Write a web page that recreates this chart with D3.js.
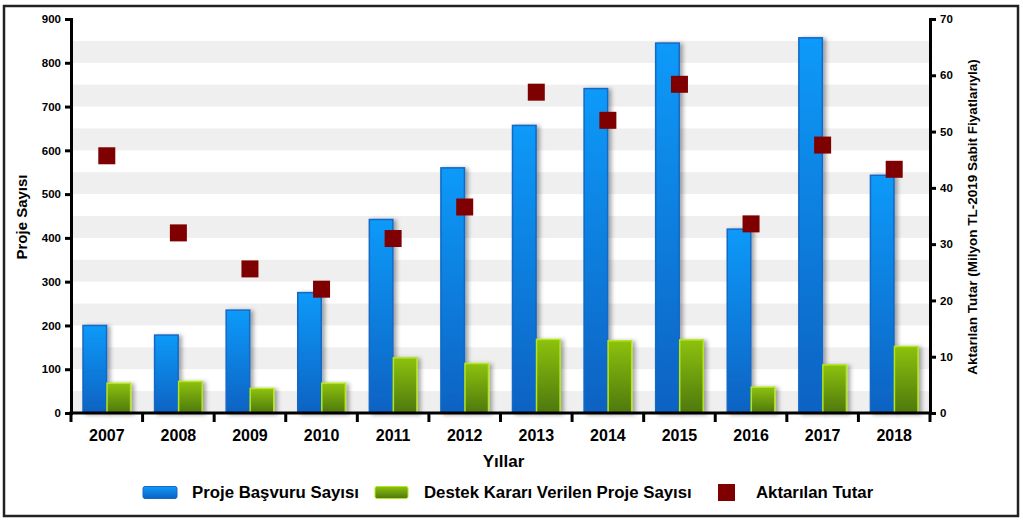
<!DOCTYPE html>
<html>
<head>
<meta charset="utf-8">
<script src="https://cdn.jsdelivr.net/npm/d3@7"></script>
<style>
  body { margin: 0; background: #fff; }
  text { font-family: "Liberation Sans", Arial, sans-serif; font-weight: bold; fill: #000; }
</style>
</head>
<body>
<div id="chart"></div>
<script>
// data
const years = ["2007", "2008", "2009", "2010", "2011", "2012", "2013", "2014", "2015", "2016", "2017", "2018"];
const basvuru = [200, 178, 235, 275, 442, 560, 657, 741, 845, 420, 857, 543];
const destek = [68, 72, 56, 68, 126, 113, 168, 165, 167, 59, 110, 152];
const tutar = [45.7, 32.0, 25.6, 22.0, 31.0, 36.6, 57.0, 52.0, 58.4, 33.6, 47.6, 43.3];
const leftTicks = [0, 100, 200, 300, 400, 500, 600, 700, 800, 900];
const rightTicks = [0, 10, 20, 30, 40, 50, 60, 70];

const svgWidth = 1023;
const svgHeight = 521;

const margin = { top: 19, right: 93, bottom: 108, left: 71 };
const width = svgWidth - margin.left - margin.right;
const height = svgHeight - margin.top - margin.bottom;

const svg = d3.select("#chart")
  .append("svg")
  .attr("width", svgWidth)
  .attr("height", svgHeight);

// gradients and shadow
const defs = svg.append("defs");
const blueGrad = defs.append("linearGradient").attr("id", "blueGrad")
  .attr("x1", 0).attr("y1", 0).attr("x2", 0).attr("y2", 1);
blueGrad.append("stop").attr("offset", "0%").attr("stop-color", "#0e9af9");
blueGrad.append("stop").attr("offset", "100%").attr("stop-color", "#0a62c2");

const greenGrad = defs.append("linearGradient").attr("id", "greenGrad")
  .attr("x1", 0).attr("y1", 0).attr("x2", 0).attr("y2", 1);
greenGrad.append("stop").attr("offset", "0%").attr("stop-color", "#8cc20f");
greenGrad.append("stop").attr("offset", "100%").attr("stop-color", "#4e780c");

const shadow = defs.append("filter").attr("id", "shadow")
  .attr("x", "-20%").attr("y", "-10%").attr("width", "160%").attr("height", "130%");
shadow.append("feDropShadow")
  .attr("dx", 3).attr("dy", 1).attr("stdDeviation", 2)
  .attr("flood-color", "#000").attr("flood-opacity", 0.35);

// outer frame
svg.append("rect")
  .attr("x", 4).attr("y", 6)
  .attr("width", 1014).attr("height", 510)
  .attr("fill", "none")
  .attr("stroke", "#222")
  .attr("stroke-width", 2.5);

const chartGroup = svg.append("g")
  .attr("transform", `translate(${margin.left}, ${margin.top})`);

// scales
const xScale = d3.scaleBand()
  .domain(years)
  .range([0, width])
  .paddingInner(0);

const xInner = d3.scaleBand()
  .domain(["basvuru", "destek"])
  .range([0, xScale.bandwidth()])
  .paddingInner(0.02)
  .paddingOuter(0.5);

const yLeft = d3.scaleLinear().domain([0, 900]).range([height, 0]);
const yRight = d3.scaleLinear().domain([0, 70]).range([height, 0]);

// alternating background bands
const bands = d3.range(0, 900, 100);
chartGroup.selectAll(".band")
  .data(bands)
  .enter()
  .append("rect")
  .attr("class", "band")
  .attr("x", 0)
  .attr("width", width)
  .attr("y", d => yLeft(d + 50))
  .attr("height", d => yLeft(d) - yLeft(d + 50))
  .attr("fill", "#efefef");

// bars
const groups = chartGroup.selectAll(".year")
  .data(years)
  .enter()
  .append("g")
  .attr("class", "year")
  .attr("transform", d => `translate(${xScale(d)}, 0)`);

groups.append("rect")
  .attr("x", xInner("basvuru"))
  .attr("width", xInner.bandwidth())
  .attr("y", (d, i) => yLeft(basvuru[i]))
  .attr("height", (d, i) => height - yLeft(basvuru[i]))
  .attr("fill", "url(#blueGrad)")
  .attr("stroke", "#1468c6")
  .attr("stroke-width", 1.5)
  .attr("filter", "url(#shadow)");

groups.append("rect")
  .attr("x", xInner("destek"))
  .attr("width", xInner.bandwidth())
  .attr("y", (d, i) => yLeft(destek[i]))
  .attr("height", (d, i) => height - yLeft(destek[i]))
  .attr("fill", "url(#greenGrad)")
  .attr("stroke", "#b4e61e")
  .attr("stroke-width", 1.5)
  .attr("filter", "url(#shadow)");

// squares for Aktarılan Tutar
const sq = 17;
chartGroup.selectAll(".tutar")
  .data(years)
  .enter()
  .append("rect")
  .attr("class", "tutar")
  .attr("x", d => xScale(d) + xScale.bandwidth() / 2 - sq / 2)
  .attr("y", (d, i) => yRight(tutar[i]) - sq / 2)
  .attr("width", sq)
  .attr("height", sq)
  .attr("fill", "#7e0000");

// axes
const leftAxis = d3.axisLeft(yLeft).tickValues(leftTicks).tickSize(6).tickPadding(4);
const rightAxis = d3.axisRight(yRight).tickValues(rightTicks).tickSize(6).tickPadding(4);

const gl = chartGroup.append("g").call(leftAxis);
const gr = chartGroup.append("g").attr("transform", `translate(${width}, 0)`).call(rightAxis);

[gl, gr].forEach(g => {
  g.select(".domain").attr("stroke", "#000").attr("stroke-width", 3);
  g.selectAll(".tick line").attr("stroke", "#000").attr("stroke-width", 3);
  g.selectAll(".tick text").style("font-size", "11.5px").style("font-weight", "bold")
    .style("font-family", "'Liberation Sans', Arial, sans-serif");
});

// bottom axis: line plus ticks at category boundaries
const bottomG = chartGroup.append("g").attr("transform", `translate(0, ${height})`);
bottomG.append("line")
  .attr("x1", -1.5).attr("x2", width + 1.5)
  .attr("stroke", "#000").attr("stroke-width", 3);
bottomG.selectAll(".btick")
  .data(years.concat(["end"]))
  .enter()
  .append("line")
  .attr("x1", (d, i) => i * xScale.step())
  .attr("x2", (d, i) => i * xScale.step())
  .attr("y1", 0).attr("y2", 9)
  .attr("stroke", "#000").attr("stroke-width", 3);
bottomG.selectAll(".blabel")
  .data(years)
  .enter()
  .append("text")
  .attr("x", d => xScale(d) + xScale.bandwidth() / 2)
  .attr("y", 28)
  .attr("text-anchor", "middle")
  .style("font-size", "16px")
  .text(d => d);

// axis titles
chartGroup.append("text")
  .attr("x", width / 2 + 3)
  .attr("y", height + 54)
  .attr("text-anchor", "middle")
  .style("font-size", "17px")
  .text("Yıllar");

svg.append("text")
  .attr("transform", `translate(27, ${margin.top + height / 2 + 1}) rotate(-90)`)
  .attr("text-anchor", "middle")
  .style("font-size", "15px")
  .text("Proje Sayısı");

svg.append("text")
  .attr("transform", `translate(977, ${margin.top + height / 2 + 1}) rotate(-90)`)
  .attr("text-anchor", "middle")
  .style("font-size", "13.5px")
  .text("Aktarılan Tutar (Milyon TL-2019 Sabit Fiyatlarıyla)");

// legend
const legendY = 492.5;
const legend = svg.append("g");
legend.append("rect")
  .attr("x", 143).attr("y", legendY - 6).attr("width", 34).attr("height", 12)
  .attr("rx", 2).attr("fill", "url(#blueGrad)").attr("stroke", "#1468c6");
legend.append("text")
  .attr("x", 192).attr("y", legendY + 5.5)
  .style("font-size", "16.8px")
  .text("Proje Başvuru Sayısı");
legend.append("rect")
  .attr("x", 375).attr("y", legendY - 6).attr("width", 33).attr("height", 12)
  .attr("rx", 2).attr("fill", "url(#greenGrad)").attr("stroke", "#b4e61e");
legend.append("text")
  .attr("x", 424).attr("y", legendY + 5.5)
  .style("font-size", "16.8px")
  .text("Destek Kararı Verilen Proje Sayısı");
legend.append("rect")
  .attr("x", 718).attr("y", legendY - 8.5).attr("width", 17).attr("height", 17)
  .attr("fill", "#7e0000");
legend.append("text")
  .attr("x", 756).attr("y", legendY + 5.5)
  .style("font-size", "16.8px")
  .text("Aktarılan Tutar");
</script>
</body>
</html>
